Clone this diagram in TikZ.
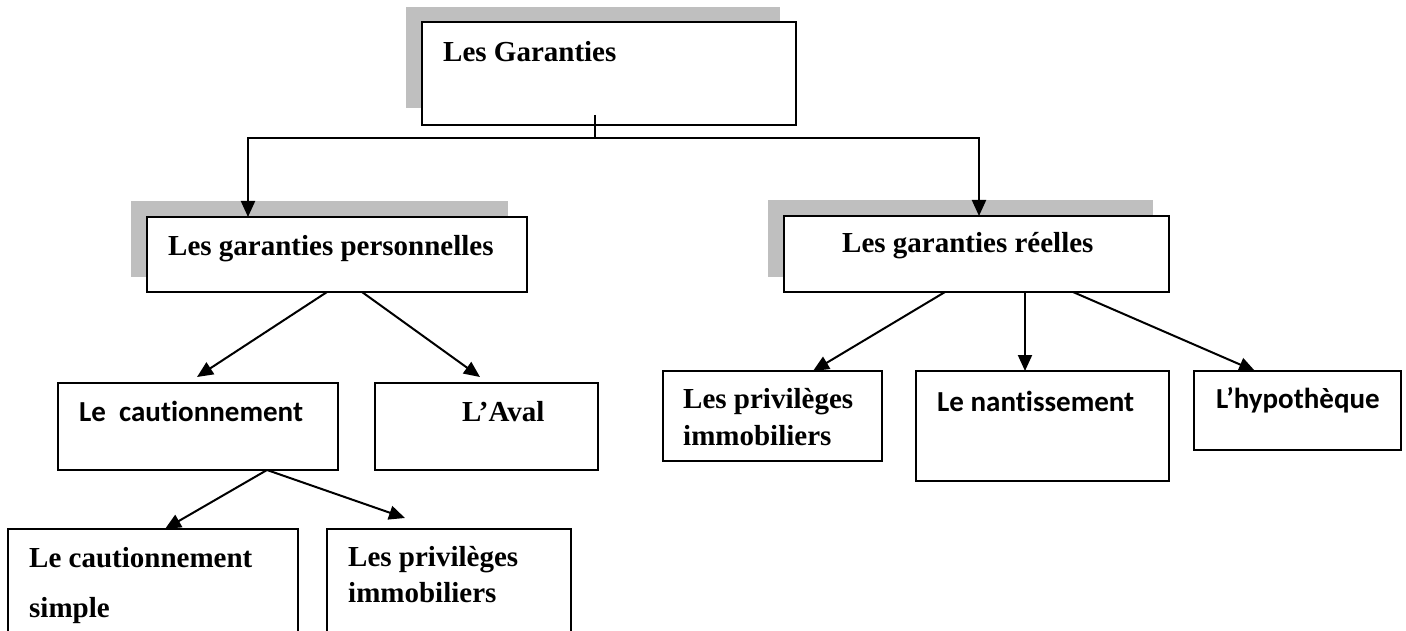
\documentclass[tikz,border=0pt]{standalone}
\usepackage{fontspec}
\setmainfont{Liberation Serif}
\newfontfamily\calfont{Carlito}[Ligatures={NoCommon,NoContextual}]
\usetikzlibrary{arrows.meta}
\definecolor{shadegray}{RGB}{191,191,191}
\begin{document}
\begin{tikzpicture}[x=1pt,y=-1pt,
  box/.style={draw=black, line width=2pt, fill=white, outer sep=0pt, inner sep=0pt, anchor=north west},
  shadowbox/.style={fill=shadegray, draw=none, outer sep=0pt, inner sep=0pt, anchor=north west},
  serif/.style={inner sep=0pt, anchor=base west, align=left,
    font=\fontsize{29pt}{36pt}\selectfont\bfseries},
  sans/.style={inner sep=0pt, anchor=base west, align=left,
    font=\fontsize{29pt}{36pt}\selectfont\calfont\bfseries},
  link/.style={line width=2pt},
  arrow/.style={line width=2pt, -{Triangle[length=16pt,width=14pt]}}]
\useasboundingbox (0,0) rectangle (1406,631);
\clip (0,0) rectangle (1406,631);

% root
\node[shadowbox, minimum width=374pt, minimum height=101pt] (rootshadow) at (406,7) {};
\node[box, minimum width=374pt, minimum height=103pt] (root) at (422,22) {};
\node[serif] (roottext) at (443,62) {Les Garanties};

% second level
\node[shadowbox, minimum width=377pt, minimum height=76pt] (persshadow) at (131,201) {};
\node[box, minimum width=380pt, minimum height=75pt] (pers) at (147,217) {};
\node[serif] (perstext) at (168,255) {Les garanties personnelles};

\node[shadowbox, minimum width=385pt, minimum height=77pt] (reelshadow) at (768,200) {};
\node[box, minimum width=385pt, minimum height=76pt] (reel) at (784,216) {};
\node[serif] (reeltext) at (842,253) {Les garanties réelles};

% personal guarantees (two-line labels are anchored on their last line)
\node[box, minimum width=280pt, minimum height=87pt] (caut) at (58,383) {};
\node[sans] (cauttext) at (79,421) {Le\ \ cautionnement};

\node[box, minimum width=223pt, minimum height=87pt] (aval) at (375,383) {};
\node[serif] (avaltext) at (462,421) {L’Aval};

\node[box, minimum width=290pt, minimum height=130pt] (simple) at (8,529) {};
\node[serif] (simpletext) at (29,617) {Le cautionnement\\[14pt]simple};

\node[box, minimum width=244pt, minimum height=130pt] (privA) at (327,529) {};
\node[serif] (privAtext) at (348,602) {Les privilèges\\immobiliers};

% real guarantees
\node[box, minimum width=219pt, minimum height=90pt] (privB) at (663,371) {};
\node[serif] (privBtext) at (683,445) {Les privilèges\\[1pt]immobiliers};

\node[box, minimum width=253pt, minimum height=110pt] (nant) at (916,371) {};
\node[sans] (nanttext) at (937,411) {Le nantissement};

\node[box, minimum width=207pt, minimum height=79pt] (hyp) at (1194,371) {};
\node[sans] (hyptext) at (1216,408) {L’hypothèque};

% connectors from the root
\coordinate (hub) at (595,138);
\draw[link] ([xshift=173pt,yshift=10pt]root.south west) -- (hub);
\draw[arrow] (hub) -| ([xshift=101pt]pers.north west);
\draw[arrow] (hub) -| ([xshift=195pt]reel.north west);

% connectors from the personal guarantees
\draw[arrow] ([xshift=180pt]pers.south west) -- ([xshift=139pt,yshift=6pt]caut.north west);
\draw[arrow] ([xshift=215pt]pers.south west) -- ([xshift=105pt,yshift=6pt]aval.north west);
\draw[arrow] ([xshift=209pt]caut.south west) -- ([xshift=157pt]simple.north west);
\draw[arrow] ([xshift=209pt]caut.south west) -- ([xshift=78pt,yshift=11pt]privA.north west);

% connectors from the real guarantees
\draw[arrow] ([xshift=161pt]reel.south west) -- ([xshift=150pt]privB.north west);
\draw[arrow] ([xshift=241pt]reel.south west) -- ([xshift=109pt]nant.north west);
\draw[arrow] ([xshift=289pt]reel.south west) -- ([xshift=61pt]hyp.north west);
\end{tikzpicture}
\end{document}
